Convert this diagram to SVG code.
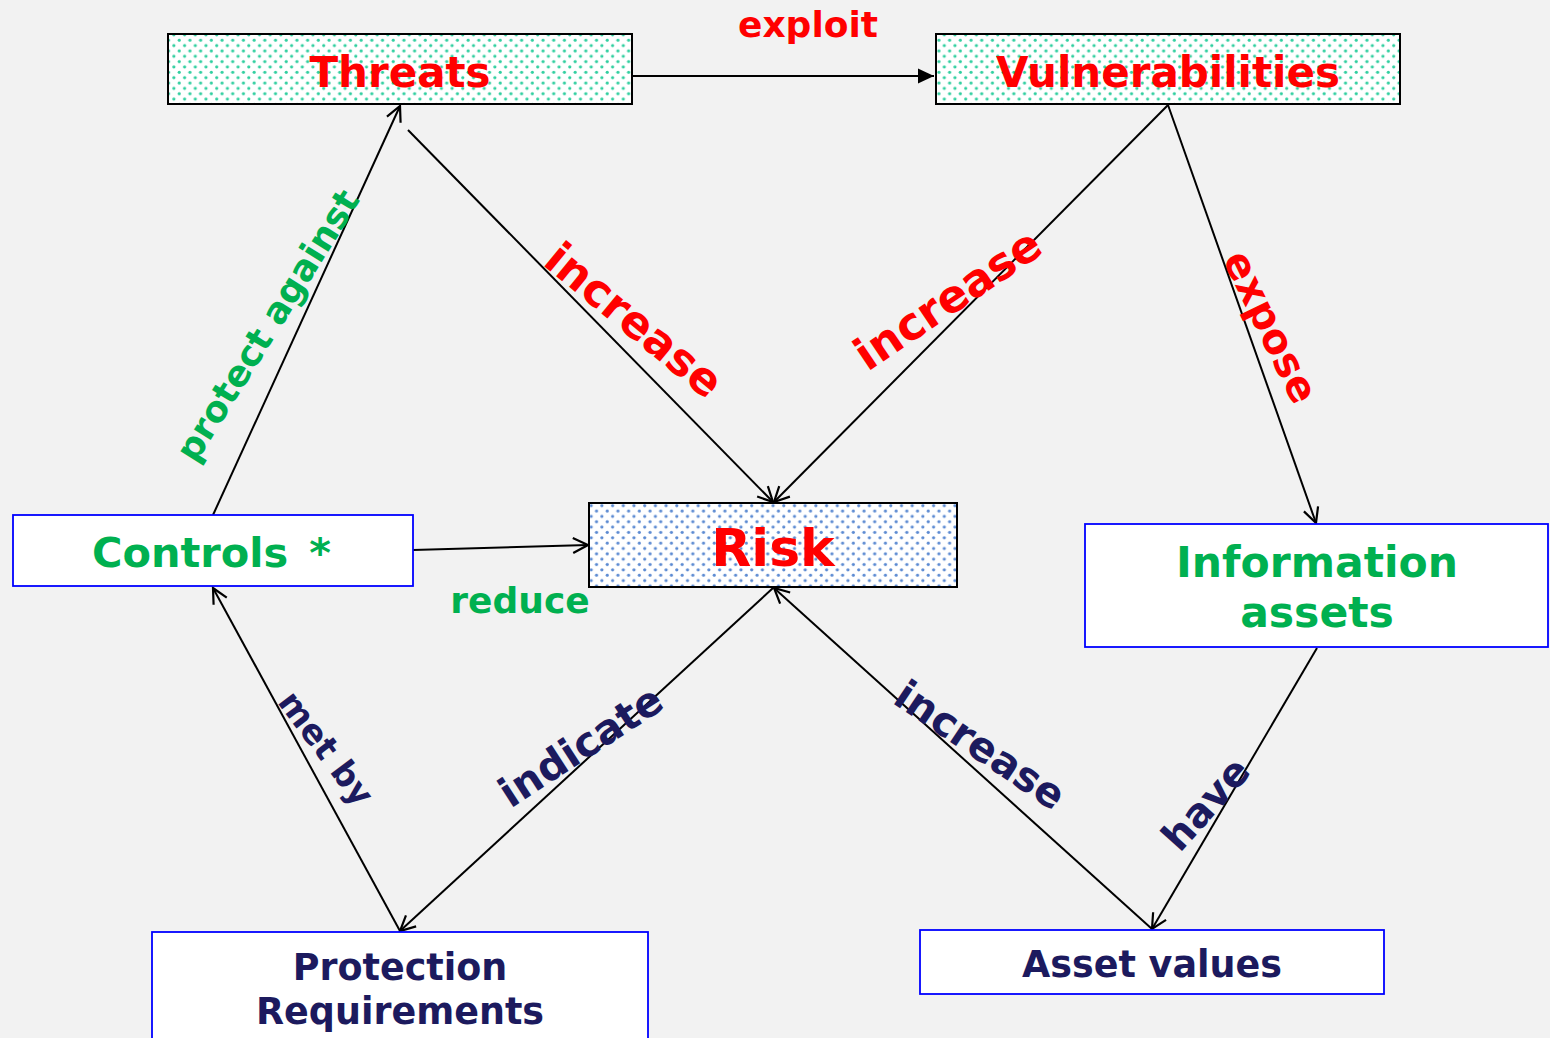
<svg xmlns="http://www.w3.org/2000/svg" width="1550" height="1038" viewBox="0 0 1550 1038">
<defs>
<pattern id="dotTeal" patternUnits="userSpaceOnUse" width="10.7" height="10.7">
<rect width="10.7" height="10.7" fill="#ffffff"/>
<circle cx="2.7" cy="2.7" r="1.6" fill="#2fcf9f"/>
<circle cx="8.05" cy="8.05" r="1.6" fill="#2fcf9f"/>
</pattern>
<pattern id="dotBlue" patternUnits="userSpaceOnUse" width="10.7" height="10.7">
<rect width="10.7" height="10.7" fill="#ffffff"/>
<circle cx="2.7" cy="2.7" r="1.6" fill="#5b8ad2"/>
<circle cx="8.05" cy="8.05" r="1.6" fill="#5b8ad2"/>
</pattern>
<marker id="open" markerUnits="userSpaceOnUse" markerWidth="22" markerHeight="22" refX="0" refY="0" viewBox="-18 -11 20 22" orient="auto">
<path d="M-15,-7.5 L0,0 L-15,7.5" fill="none" stroke="#000" stroke-width="2.2"/>
</marker>
<marker id="solid" markerUnits="userSpaceOnUse" markerWidth="22" markerHeight="22" refX="0" refY="0" viewBox="-18 -11 20 22" orient="auto">
<path d="M-16,-7.5 L0,0 L-16,7.5 Z" fill="#000"/>
</marker>
</defs>
<style>
text{font-family:"DejaVu Sans","Verdana","Liberation Sans",sans-serif;font-weight:bold;}
.red{fill:#ff0000;}
.green{fill:#00b050;}
.navy{fill:#1c1a5e;}
.dark{stroke:#000;stroke-width:2;}
.blue{fill:#ffffff;stroke:#0000ff;stroke-width:1.8;}
.conn{stroke:#000;stroke-width:2;fill:none;}
</style>
<rect width="1550" height="1038" fill="#f2f2f2"/>

<g id="connectors">
<path class="conn" d="M632,76 L934,76" marker-end="url(#solid)"/>
<path class="conn" d="M213,515 L400,106" marker-end="url(#open)"/>
<path class="conn" d="M408,130 L773,502" marker-end="url(#open)"/>
<path class="conn" d="M1168,105 L774,502" marker-end="url(#open)"/>
<path class="conn" d="M1168,105 L1316,523" marker-end="url(#open)"/>
<path class="conn" d="M413,550 L588,545" marker-end="url(#open)"/>
<path class="conn" d="M773,588 L400,931" marker-end="url(#open)"/>
<path class="conn" d="M400,931 L213,588" marker-end="url(#open)"/>
<path class="conn" d="M1152,929 L774,588" marker-end="url(#open)"/>
<path class="conn" d="M1317,648 L1152,929" marker-end="url(#open)"/>
<text class="red" x="808" y="37" font-size="36" text-anchor="middle">exploit</text>
<text class="green" transform="translate(270,327) rotate(-58)" x="0" y="9.5" font-size="36" text-anchor="middle">protect against</text>
<text class="red" transform="translate(635,319) rotate(39.5)" x="0" y="17" font-size="45" text-anchor="middle">increase</text>
<text class="red" transform="translate(947,298) rotate(-34)" x="0" y="17" font-size="45" text-anchor="middle">increase</text>
<text class="red" transform="translate(1264,330) rotate(64)" x="0" y="6.5" font-size="41" text-anchor="middle">expose</text>
<text class="green" x="520" y="613" font-size="36" text-anchor="middle">reduce</text>
<text class="navy" transform="translate(324,750) rotate(53)" x="0" y="9" font-size="34" text-anchor="middle">met by</text>
<text class="navy" transform="translate(580,745) rotate(-33)" x="0" y="15.5" font-size="41" text-anchor="middle">indicate</text>
<text class="navy" transform="translate(981,744) rotate(34)" x="0" y="15.5" font-size="41" text-anchor="middle">increase</text>
<text class="navy" transform="translate(1205,803) rotate(-48)" x="0" y="15" font-size="40" text-anchor="middle">have</text>
</g>

<g id="threats">
<rect x="168" y="34" width="464" height="70" fill="url(#dotTeal)" class="dark"/>
<text class="red" x="400" y="87" font-size="42" text-anchor="middle">Threats</text>
</g>
<g id="vulnerabilities">
<rect x="936" y="34" width="464" height="70" fill="url(#dotTeal)" class="dark"/>
<text class="red" x="1168" y="87" font-size="42" text-anchor="middle">Vulnerabilities</text>
</g>
<g id="risk">
<rect x="589" y="503" width="368" height="84" fill="url(#dotBlue)" class="dark"/>
<text class="red" x="773" y="566" font-size="52" text-anchor="middle">Risk</text>
</g>
<g id="controls">
<rect x="13" y="515" width="400" height="71" class="blue"/>
<text class="green" font-size="41.5"><tspan x="92" y="567">Controls</tspan><tspan x="320" y="567" text-anchor="middle">*</tspan></text>
</g>
<g id="information-assets">
<rect x="1085" y="524" width="463" height="123" class="blue"/>
<text class="green" font-size="42.5" text-anchor="middle"><tspan x="1317" y="577">Information</tspan><tspan x="1317" y="627">assets</tspan></text>
</g>
<g id="protection-requirements">
<rect x="152" y="932" width="496" height="120" class="blue"/>
<text class="navy" font-size="36.5" text-anchor="middle"><tspan x="400" y="980">Protection</tspan><tspan x="400" y="1024">Requirements</tspan></text>
</g>
<g id="asset-values">
<rect x="920" y="930" width="464" height="64" class="blue"/>
<text class="navy" x="1152" y="977" font-size="36.5" text-anchor="middle">Asset values</text>
</g>
</svg>
